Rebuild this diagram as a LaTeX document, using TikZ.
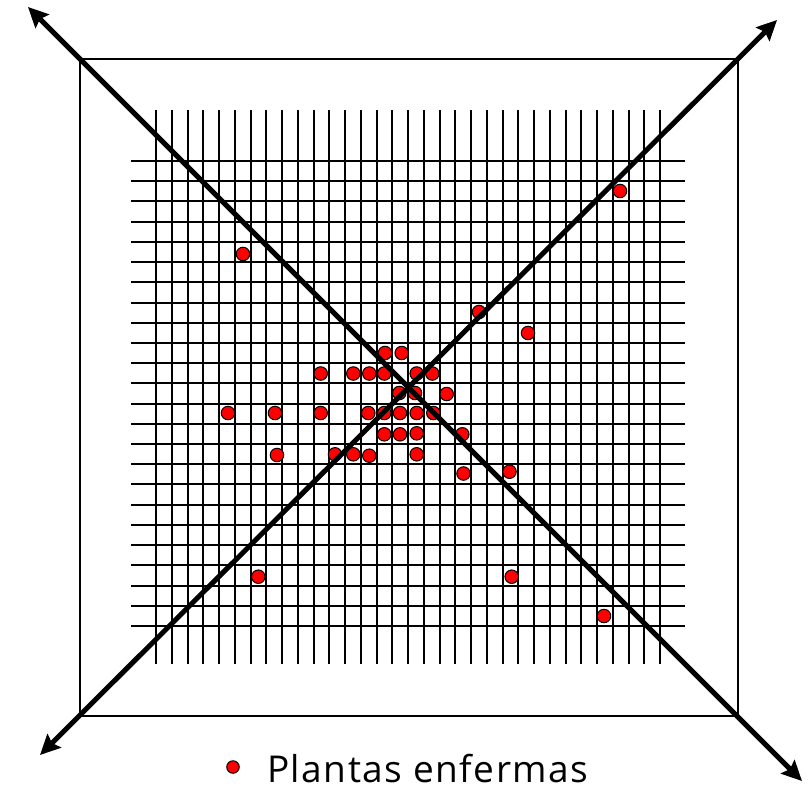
\documentclass[tikz,border=0pt]{standalone}
\usepackage{fontspec}
\setmainfont{Open Sans}[LetterSpace=4]
\usetikzlibrary{arrows.meta}
\tikzset{
  gridline/.style={line width=2pt, black},
  frameline/.style={line width=2pt, black},
  axisarrow/.style={line width=5pt, black, {Stealth[length=20pt,width=19pt,inset=3pt]}-{Stealth[length=20pt,width=19pt,inset=3pt]}},
  sick/.style={circle, fill=red, draw=black, line width=1pt, minimum size=13.5pt, inner sep=0pt},
  legendtext/.style={anchor=base west, inner sep=0pt, text depth=0pt, font=\fontsize{37}{38}\selectfont}
}
\begin{document}
\begin{tikzpicture}[x=1pt,y=-1pt]
\useasboundingbox (0,0) rectangle (808,790);
% outer frame
\coordinate (tl) at (80,58.5);
\coordinate (br) at (737.5,716);
\draw[frameline] (tl) rectangle (br);
% grid
\foreach \k in {0,...,32}{
  \draw[gridline] ({156+15.75*\k},110) -- ({156+15.75*\k},664);
}
\foreach \k in {0,...,23}{
  \draw[gridline] (131,{161+20.217*\k}) -- (685,{161+20.217*\k});
}
% diseased plants
\foreach [count=\n] \px/\py in {243/254, 620/191, 479/312, 528/333,
  385/353, 401.7/353,
  320.7/373.5, 353.3/373.5, 369.3/373.5, 384.3/373.5, 416.7/373.5, 432.3/373.5,
  399.3/393, 415/393, 446.7/394,
  228/413, 275/413, 320.7/413, 368.3/413, 384.3/413, 400/413, 416.7/413, 433.3/413,
  384.3/434.3, 400/434.3, 416.7/433.3, 462.3/434.3,
  277/455, 335/454.3, 353.3/454.3, 369.3/455.7, 416.7/454.3,
  463.5/473.5, 509.5/471.7,
  258.3/576.7, 511.7/576.7, 604/616}{
  \node[sick] (p\n) at (\px,\py) {};
}
% diagonal arrows
\coordinate (a1s) at (802,781);
\coordinate (a1e) at (28,7);
\coordinate (a2s) at (40,755);
\coordinate (a2e) at (777,20);
\draw[axisarrow] (a1e) -- (a1s);
\draw[axisarrow] (a2s) -- (a2e);
% legend
\node[sick, minimum size=12.5pt] (legdot) at (233,767) {};
\node[legendtext] (legtxt) at (267,782.5) {Plantas enfermas};
\end{tikzpicture}
\end{document}
